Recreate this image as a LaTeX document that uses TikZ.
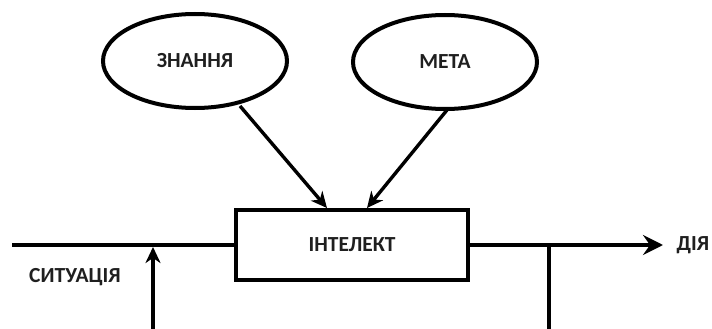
\documentclass[tikz,border=0pt]{standalone}
\usepackage{fontspec}
\setmainfont{Carlito}
\usetikzlibrary{arrows.meta,shapes.geometric}
\begin{document}
\begin{tikzpicture}[x=1pt,y=-1pt,
  lbl/.style={font=\bfseries\fontsize{21.5}{24}\selectfont, text=black!88},
  oval/.style={draw, ellipse, line width=4pt, minimum width=184pt, minimum height=94pt, inner sep=0pt},
  procbox/.style={draw, rectangle, line width=4.4pt, minimum width=232pt, minimum height=70pt, inner sep=0pt},
  ln/.style={line width=3.4pt},
  arr/.style={ln, -{Stealth[length=16pt,width=15pt,inset=5pt]}},
  bigarr/.style={ln, -{Stealth[length=20pt,width=20pt,inset=7pt]}}]
\useasboundingbox (0,0) rectangle (712,329);
\clip (0,0) rectangle (712,329);
\node[oval] (zn) at (195,61) {};
\node[lbl] at (zn.center) {ЗНАННЯ};
\node[oval] (meta) at (445,62) {};
\node[lbl] at (meta.center) {МЕТА};
\node[procbox] (int) at (352,245) {};
\node[lbl] at (int.center) {ІНТЕЛЕКТ};
\coordinate (a1) at (327,208);
\coordinate (a2) at (367,208);
\draw[arr] (240,106) -- (a1);
\draw[arr] (447,110) -- (a2);
\coordinate (inL) at (12,245);
\coordinate (outR) at (663,245);
\draw[ln] (inL) -- (int.west);
\draw[bigarr] (int.east) -- (outR);
\node[lbl, anchor=west] (dia) at (673,245) {ДІЯ};
\node[lbl] (sit) at (75,277) {СИТУАЦІЯ};
\coordinate (fbR) at (549,245);
\coordinate (fbRb) at (549,335);
\coordinate (fbLb) at (153,335);
\coordinate (fbL) at (153,247);
\draw[ln] (fbR) -- (fbRb) -- (fbLb);
\draw[arr] (fbLb) -- (fbL);
\end{tikzpicture}
\end{document}
